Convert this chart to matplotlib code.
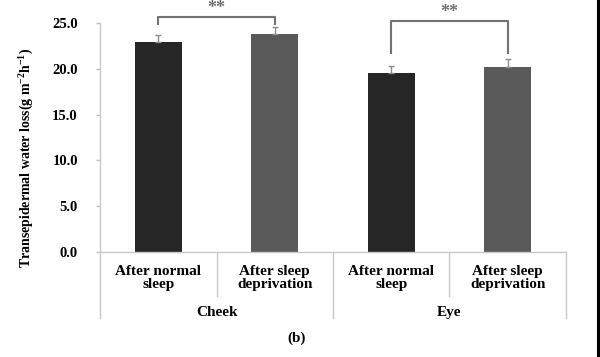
import matplotlib.pyplot as plt
import matplotlib.transforms as mtransforms
from matplotlib.lines import Line2D

##### 字体
plt.rcParams['font.family'] = 'Liberation Serif'
plt.rcParams['font.weight'] = 'bold'
plt.rcParams['mathtext.fontset'] = 'custom'
plt.rcParams['mathtext.rm'] = 'Liberation Serif:bold'
plt.rcParams['mathtext.default'] = 'rm'

##### 数据
categories = ["After normal\nsleep", "After sleep\ndeprivation",
              "After normal\nsleep", "After sleep\ndeprivation"]
groups = ["Cheek", "Eye"]
twl = [22.9, 23.8, 19.5, 20.2]
twl_err = [0.8, 0.8, 0.8, 0.9]
pairs = [(0, 1), (2, 3)]
pair_marks = ["**", "**"]
bracket_top = [25.65, 25.2]
bracket_leg = [24.85, 21.7]
colors = ["#262626", "#595959", "#262626", "#595959"]

##### 绘图
fig = plt.figure(figsize=(6, 3.57), dpi=100)
ax = fig.add_axes([0.1667, 0.2941, 0.7766, 0.6415])

x = list(range(len(categories)))
ax.bar(x, twl, width=0.4, color=colors, zorder=2)
ax.errorbar(x, twl, yerr=[[0] * len(twl), twl_err], fmt='none',
            ecolor='#8c8c8c', elinewidth=1, capsize=2, capthick=1, zorder=3)

ax.set_xlim(-0.5, 3.5)
ax.set_ylim(0, 25)
ax.set_yticks([0, 5, 10, 15, 20, 25])
ax.set_yticklabels(["%.1f" % v for v in [0, 5, 10, 15, 20, 25]], fontsize=10.5)
ax.set_xticks([])
ax.tick_params(axis='y', color='#bfbfbf', length=3, width=1, pad=13)

for s in ['top', 'right']:
    ax.spines[s].set_visible(False)
for s in ['left', 'bottom']:
    ax.spines[s].set_color('#c8c8c8')
    ax.spines[s].set_linewidth(1)

ax.set_ylabel("Transepidermal water loss(g m$^{-2}$h$^{-1}$)", fontsize=10, fontweight='bold')
ax.yaxis.set_label_coords(-0.137, 0.41)

# 类别标签与分隔线
trans = mtransforms.blended_transform_factory(ax.transData, ax.transAxes)
for i, lab in enumerate(categories):
    ax.text(i, -0.113, lab, transform=trans, ha='center', va='center',
            fontsize=11, fontweight='bold', linespacing=1.0)
for xv in [-0.5, 1.5, 3.5]:
    ax.add_line(Line2D([xv, xv], [0, -0.29], transform=trans, color='#c8c8c8',
                       lw=1, clip_on=False))
for xv in [0.5, 2.5]:
    ax.add_line(Line2D([xv, xv], [0, -0.19], transform=trans, color='#c8c8c8',
                       lw=1, clip_on=False))
for g, name in enumerate(groups):
    ax.text(2 * g + 0.5, -0.262, name, transform=trans, ha='center', va='center',
            fontsize=11, fontweight='bold')

# 显著性标记
for (a, b), mark, top, leg in zip(pairs, pair_marks, bracket_top, bracket_leg):
    ax.plot([a, a, b, b], [leg, top, top, leg], color='#737373', lw=1.5,
            clip_on=False, zorder=4)
    ax.text((a + b) / 2, top + 0.02, mark, ha='center', va='bottom',
            fontsize=13, color='#6e6e6e', fontweight='bold')

fig.text(0.495, 0.053, "(b)", ha='center', va='center', fontsize=11, fontweight='bold')

# 右侧黑边
fig.add_artist(Line2D([0.9967, 0.9967], [0, 1], transform=fig.transFigure,
                      color='black', lw=2.2))

plt.savefig("out.png", dpi=100)
